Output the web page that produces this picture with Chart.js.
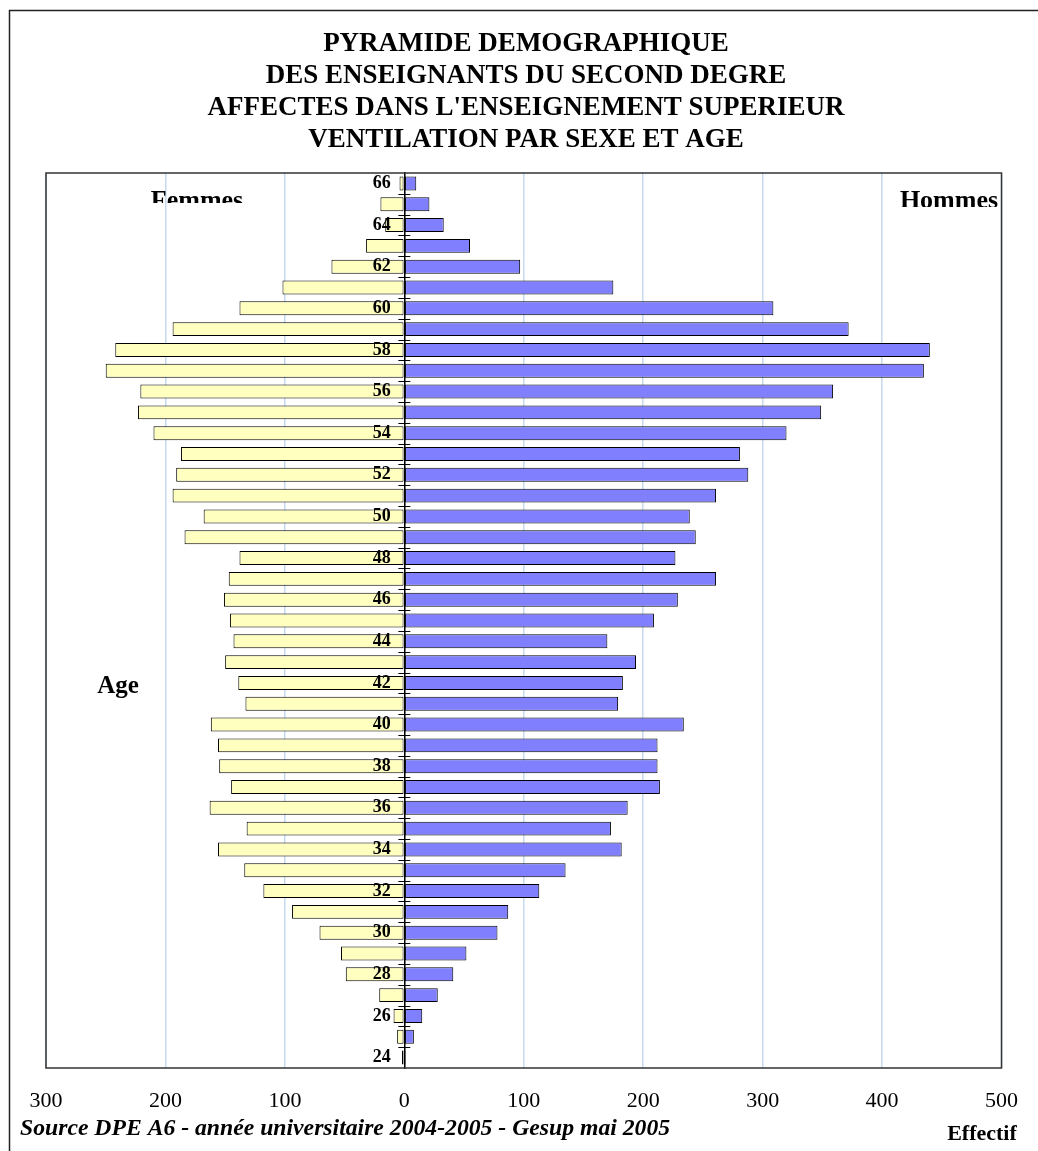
<!DOCTYPE html>
<html lang="fr">
<head>
  <meta charset="UTF-8" />
  <title>Pyramide démographique</title>
  <script src="https://cdn.jsdelivr.net/npm/chart.js"></script>
  <style>
    html, body { margin: 0; padding: 0; background: #fff; }
    canvas { display: block; }
  </style>
</head>
<body>

  <canvas id="pyramide" width="1038" height="1151"></canvas>

  <script>
    // Ages, du haut vers le bas de la pyramide
    const ages = [66, 65, 64, 63, 62, 61, 60, 59, 58, 57, 56, 55, 54, 53, 52, 51, 50, 49, 48, 47, 46, 45,
                  44, 43, 42, 41, 40, 39, 38, 37, 36, 35, 34, 33, 32, 31, 30, 29, 28, 27, 26, 25, 24];
    const femmes = [4, 20, 16, 32, 61, 102, 138, 194, 242, 250, 221, 223, 210, 187, 191, 194, 168, 184, 138, 147, 151, 146,
                    143, 150, 139, 133, 162, 156, 155, 145, 163, 132, 156, 134, 118, 94, 71, 53, 49, 21, 9, 6, 2];
    const hommes = [10, 21, 33, 55, 97, 175, 309, 372, 440, 435, 359, 349, 320, 281, 288, 261, 239, 244, 227, 261, 229, 209,
                    170, 194, 183, 179, 234, 212, 212, 214, 187, 173, 182, 135, 113, 87, 78, 52, 41, 28, 15, 8, 1];
    const effectifTicks = [-300, -200, -100, 0, 100, 200, 300, 400, 500];

    const titre = [
      'PYRAMIDE DEMOGRAPHIQUE',
      'DES ENSEIGNANTS DU SECOND DEGRE',
      "AFFECTES DANS L'ENSEIGNEMENT SUPERIEUR",
      'VENTILATION PAR SEXE ET AGE'
    ];

    const serif = "'Liberation Serif', 'Times New Roman', serif";

    // cadre, bordure de la zone, petits traits de l'axe et textes libres
    const habillage = {
      id: 'habillage',
      beforeDraw(chart) {
        const ctx = chart.ctx;
        ctx.save();
        ctx.fillStyle = '#fff';
        ctx.fillRect(0, 0, chart.width, chart.height);
        ctx.strokeStyle = '#222';
        ctx.lineWidth = 1.5;
        ctx.strokeRect(9.5, 10.5, 3000, 3000);
        ctx.restore();
      },
      afterDatasetsDraw(chart) {
        const ctx = chart.ctx;
        const y = chart.scales.y;
        const x0 = chart.scales.x.getPixelForValue(0);
        ctx.save();
        ctx.strokeStyle = '#000';
        ctx.lineWidth = 1;
        for (let i = 1; i < ages.length; i++) {
          const py = Math.round((y.getPixelForValue(i - 1) + y.getPixelForValue(i)) / 2) + 0.5;
          ctx.beginPath();
          ctx.moveTo(x0 - 6, py);
          ctx.lineTo(x0 + 6, py);
          ctx.stroke();
        }
        ctx.restore();
      },
      afterDraw(chart) {
        const ctx = chart.ctx;
        const a = chart.chartArea;
        ctx.save();
        ctx.strokeStyle = '#333';
        ctx.lineWidth = 1.5;
        ctx.strokeRect(a.left, a.top, a.right - a.left, a.bottom - a.top);

        ctx.fillStyle = '#000';
        ctx.textAlign = 'center';
        ctx.textBaseline = 'alphabetic';
        ctx.font = 'bold 26px ' + serif;

        // les deux étiquettes sont coupées en bas dans l'original
        ctx.save();
        ctx.beginPath();
        ctx.rect(0, 0, chart.width, 203);
        ctx.clip();
        ctx.fillText('Femmes', 197, 208);
        ctx.restore();

        ctx.save();
        ctx.beginPath();
        ctx.rect(0, 0, chart.width, 207);
        ctx.clip();
        ctx.fillText('Hommes', 949, 208);
        ctx.restore();

        ctx.font = 'bold 25px ' + serif;
        ctx.fillText('Age', 118, 693);

        ctx.font = 'bold 22px ' + serif;
        ctx.fillText('Effectif', 982, 1140);

        ctx.textAlign = 'left';
        ctx.font = 'italic bold 23.7px ' + serif;
        ctx.fillText('Source DPE A6 - année universitaire 2004-2005 - Gesup mai 2005', 20, 1135);
        ctx.restore();
      }
    };

    new Chart(document.getElementById('pyramide'), {
      type: 'bar',
      data: {
        labels: ages,
        datasets: [
          {
            label: 'Femmes',
            data: femmes.map(v => -v),
            backgroundColor: '#ffffc0',
            borderColor: '#000',
            borderWidth: 1,
            borderSkipped: false,
            barPercentage: 0.67,
            categoryPercentage: 1
          },
          {
            label: 'Hommes',
            data: hommes,
            backgroundColor: '#8080ff',
            borderColor: '#000',
            borderWidth: 1,
            borderSkipped: false,
            barPercentage: 0.67,
            categoryPercentage: 1
          }
        ]
      },
      options: {
        indexAxis: 'y',
        responsive: false,
        animation: false,
        layout: { padding: { left: 46, right: 32, top: 0, bottom: 0 } },
        plugins: {
          legend: { display: false },
          tooltip: { enabled: false },
          title: {
            display: true,
            text: titre,
            color: '#000',
            font: { family: serif, size: 27, weight: 'bold', lineHeight: '32px' },
            padding: { top: 28, bottom: 17 }
          }
        },
        scales: {
          x: {
            min: -300,
            max: 500,
            stacked: true,
            afterBuildTicks: s => { s.ticks = effectifTicks.map(v => ({ value: v })); },
            afterFit: s => { s.height = 83; },
            grid: { color: '#c6d9f0', lineWidth: 1.5, drawTicks: false },
            border: { display: false },
            ticks: {
              callback: v => Math.abs(v),
              color: '#000',
              font: { family: serif, size: 22 },
              padding: 20,
              maxRotation: 0
            }
          },
          y: {
            stacked: true,
            position: { x: 0 },
            afterFit: s => { s.width = 0; },
            grid: { drawOnChartArea: false, drawTicks: false },
            border: { display: true, color: '#000', width: 1.5, z: 1 },
            ticks: {
              autoSkip: false,
              z: 1,
              color: '#000',
              font: { family: serif, size: 18, weight: 'bold' },
              // le padding n'est pas appliqué pour un axe placé sur x = 0 : on décale avec des espaces
              callback: (v, i) => ages[i] % 2 === 0 ? ages[i] + '   ' : ''
            }
          }
        }
      },
      plugins: [habillage]
    });
  </script>

</body>
</html>
